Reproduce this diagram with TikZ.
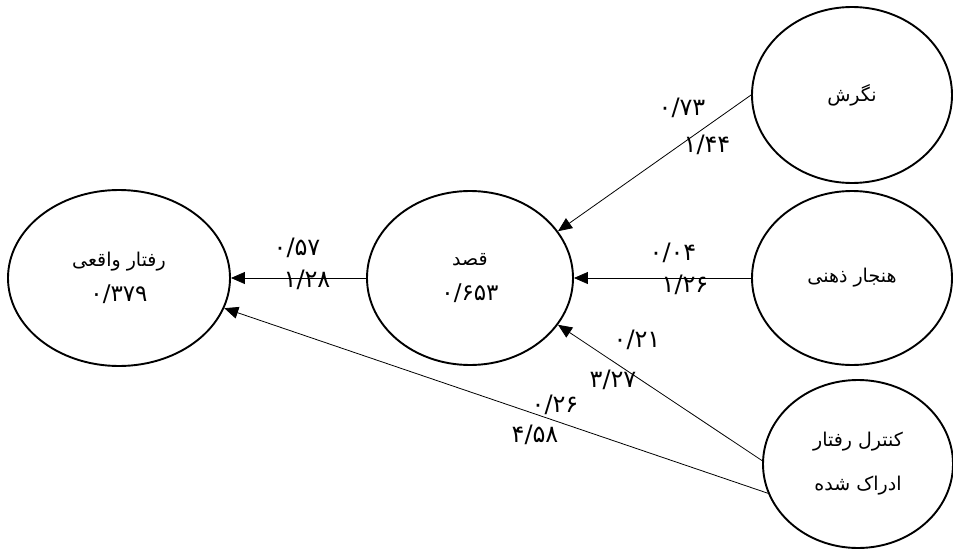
\documentclass[tikz,border=0pt]{standalone}
\usepackage{fontspec}
\newfontfamily\arabicfont[Script=Arabic]{DejaVu Sans}
\TeXXeTstate=1
\usetikzlibrary{arrows.meta, shapes.geometric}
\newcommand{\bignum}[1]{{\fontsize{23}{35}\selectfont #1}}

\begin{document}
\begin{tikzpicture}[x=1pt, y=-1pt,
  var/.style={ellipse, draw, line width=1.9pt, inner sep=0pt, align=center,
              font=\fontsize{19}{35}\arabicfont},
  coef/.style={font=\fontsize{24}{26}\arabicfont, inner sep=0pt},
  arr/.style={-{Triangle[length=14pt, width=12pt]}, line width=0.8pt}
]
\useasboundingbox (0,0) rectangle (953,551);

% constructs
\node[var, minimum width=222pt, minimum height=176pt] (beh) at (119,278)
  {\beginR رفتار واقعی\endR\\ \bignum{۰/۳۷۹}};
\node[var, minimum width=206pt, minimum height=174pt] (int) at (470,278)
  {قصد\\ \bignum{۰/۶۵۳}};
\node[var, minimum width=200pt, minimum height=176pt] (att) at (852,95)
  {نگرش};
\node[var, minimum width=200pt, minimum height=174pt] (norm) at (852,278)
  {\beginR هنجار ذهنی\endR};
\node[var, minimum width=190pt, minimum height=168pt] (pbc) at (858,464)
  {\beginR کنترل رفتار\endR\\[9pt] \beginR ادراک شده\endR};

% paths
\draw[arr] (att.west) -- (int.28);
\draw[arr] (norm.west) -- (int.east);
\draw[arr] (pbc.178) -- (int.-28);
\draw[arr] (pbc.198) -- (beh.-16);
\draw[arr] (int.west) -- (beh.east);

% coefficients
\node[coef] (c73) at (682,108) {۰/۷۳};
\node[coef] (t144) at (707,145) {۱/۴۴};
\node[coef] (c04) at (673,253) {۰/۰۴};
\node[coef] (t126) at (685,285) {۱/۲۶};
\node[coef] (c21) at (637,340) {۰/۲۱};
\node[coef] (t327) at (613,380) {۳/۲۷};
\node[coef] (c26) at (555,405) {۰/۲۶};
\node[coef] (t458) at (535,435) {۴/۵۸};
\node[coef] (c57) at (297,248) {۰/۵۷};
\node[coef] (t128) at (307,280) {۱/۲۸};
\end{tikzpicture}
\end{document}
